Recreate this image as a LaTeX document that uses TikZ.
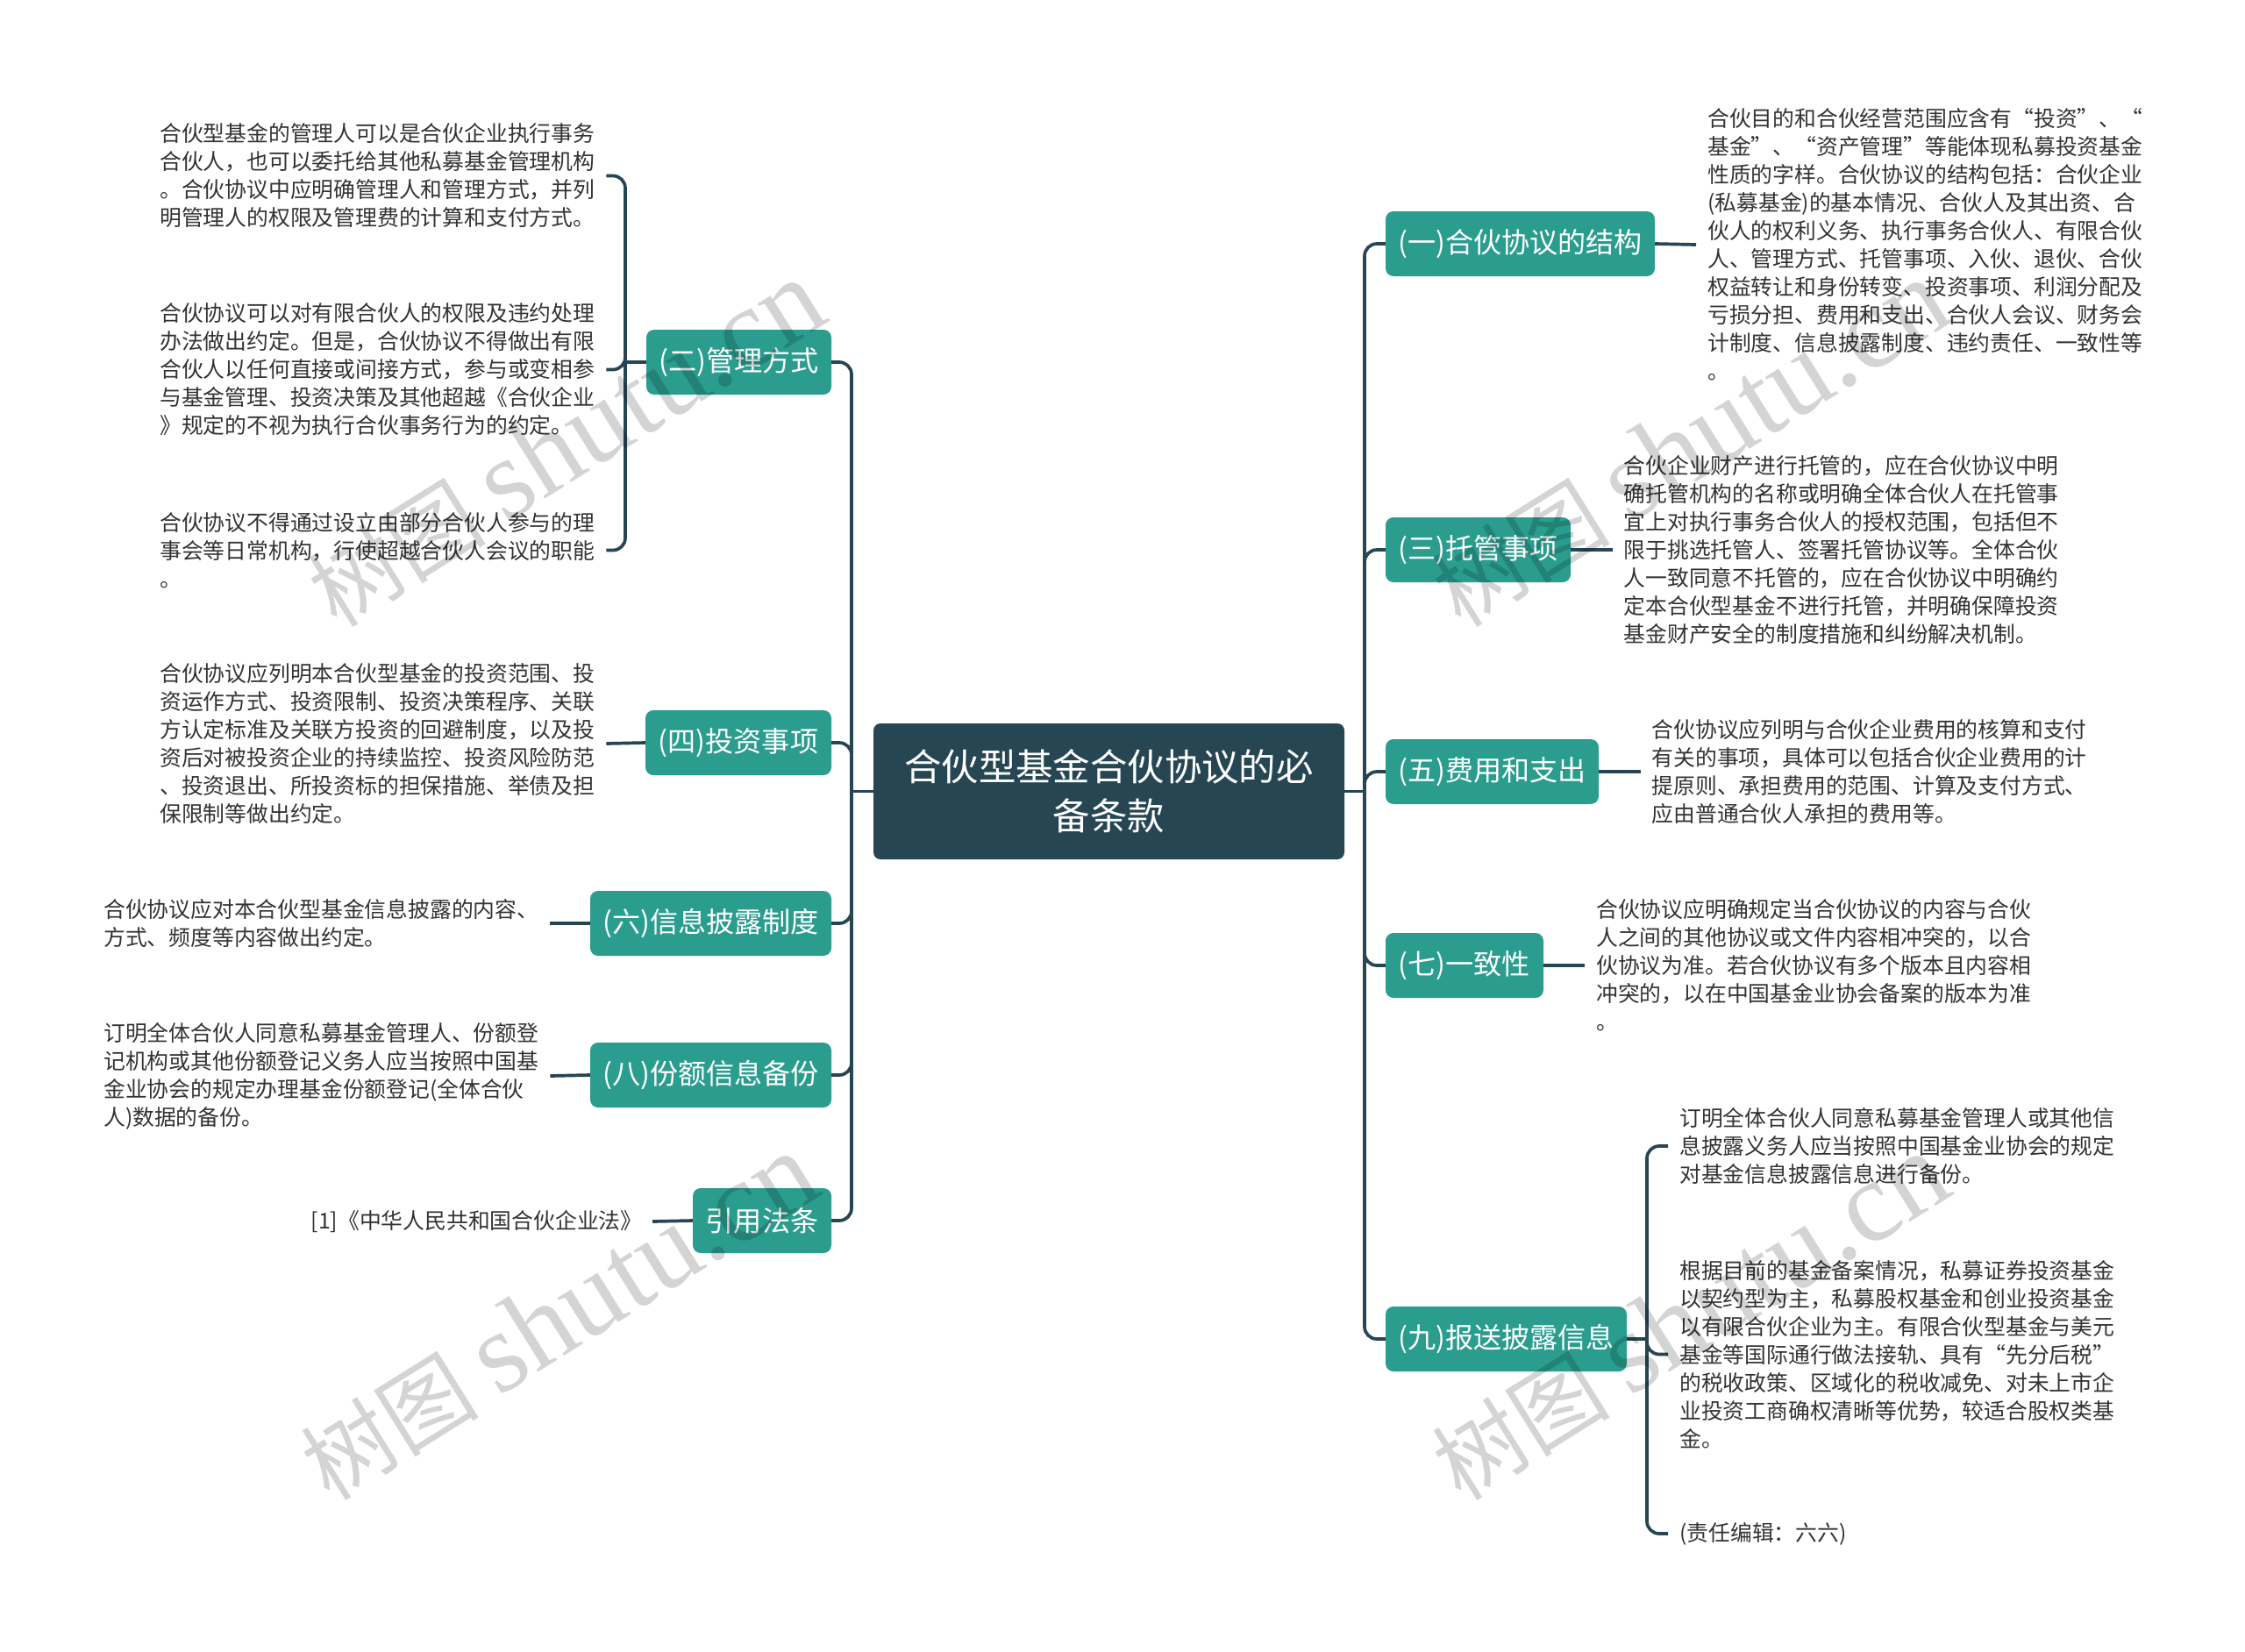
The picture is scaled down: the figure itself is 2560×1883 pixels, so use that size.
\documentclass[tikz,border=0pt]{standalone}
\usepackage{fontspec}
\setmainfont{Noto Sans CJK SC}
\newfontfamily\wmlatin{Liberation Serif}
\definecolor{rootc}{HTML}{264653}
\definecolor{teal}{HTML}{2A9D8F}
\definecolor{txt}{HTML}{333333}
\newcommand{\wmtext}{{\fontsize{102}{102}\selectfont 树图}\hspace{22pt}{\wmlatin\fontsize{131}{131}\selectfont shutu.cn}}
\tikzset{
  x=1pt,y=-1pt,
  rootbox/.style={fill=rootc,rounded corners=8pt,inner sep=0pt,text=white,align=center,font=\fontsize{42.4}{56}\selectfont},
  topic/.style={fill=teal,rounded corners=9pt,inner sep=0pt,text=white,minimum height=74pt,font=\fontsize{32.1}{40}\selectfont},
  leaf/.style={inner xsep=13pt,inner ysep=0pt,align=left,text=txt,text width=496pt,font=\fontsize{24.8}{32}\selectfont},
  link/.style={draw=rootc,line width=3.7pt,rounded corners=14pt},
  wm/.style={text=black,opacity=0.17,rotate=32,inner sep=0pt},
}
\begin{document}
\begin{tikzpicture}
\useasboundingbox[fill=white] (0,0) rectangle (2560,1883);
% root
\node[rootbox,minimum width=537pt,minimum height=155pt] (root) at (1264.5,902.5) {合伙型基金合伙协议的必\\备条款};
\coordinate (tl) at (971,902.5);
\coordinate (tr) at (1556,902.5);
% left topics
\node[topic,minimum width=211pt] (b2) at (842.5,413) {\raisebox{-1.5pt}{(二)管理方式}};
\node[topic,minimum width=212pt] (b4) at (842,847) {\raisebox{-1.5pt}{(四)投资事项}};
\node[topic,minimum width=275pt] (b6) at (810.5,1053) {\raisebox{-1.5pt}{(六)信息披露制度}};
\node[topic,minimum width=275pt] (b8) at (810.5,1226) {\raisebox{-1.5pt}{(八)份额信息备份}};
\node[topic,minimum width=158pt] (bref) at (869,1392) {\raisebox{-1.5pt}{引用法条}};
% right topics
\node[topic,minimum width=307pt] (b1) at (1733.5,278) {\raisebox{-1.5pt}{(一)合伙协议的结构}};
\node[topic,minimum width=211pt] (b3) at (1685.5,627) {\raisebox{-1.5pt}{(三)托管事项}};
\node[topic,minimum width=243pt] (b5) at (1701.5,880) {\raisebox{-1.5pt}{(五)费用和支出}};
\node[topic,minimum width=180pt] (b7) at (1670,1101) {\raisebox{-1.5pt}{(七)一致性}};
\node[topic,minimum width=275pt] (b9) at (1717.5,1527) {\raisebox{-1.5pt}{(九)报送披露信息}};
% left leaves
\node[leaf,anchor=west] (l2a) at (169,200.5) {合伙型基金的管理人可以是合伙企业执行事务\\合伙人，也可以委托给其他私募基金管理机构\\。合伙协议中应明确管理人和管理方式，并列\\明管理人的权限及管理费的计算和支付方式。};
\node[leaf,anchor=west] (l2b) at (169,421.5) {合伙协议可以对有限合伙人的权限及违约处理\\办法做出约定。但是，合伙协议不得做出有限\\合伙人以任何直接或间接方式，参与或变相参\\与基金管理、投资决策及其他超越《合伙企业\\》规定的不视为执行合伙事务行为的约定。};
\node[leaf,anchor=west] (l2c) at (169,627.5) {合伙协议不得通过设立由部分合伙人参与的理\\事会等日常机构，行使超越合伙人会议的职能\\。};
\node[leaf,anchor=west] (l4) at (169,848) {合伙协议应列明本合伙型基金的投资范围、投\\资运作方式、投资限制、投资决策程序、关联\\方认定标准及关联方投资的回避制度，以及投\\资后对被投资企业的持续监控、投资风险防范\\、投资退出、所投资标的担保措施、举债及担\\保限制等做出约定。};
\node[leaf,anchor=west] (l6) at (105,1053) {合伙协议应对本合伙型基金信息披露的内容、\\方式、频度等内容做出约定。};
\node[leaf,anchor=west] (l8) at (105,1227) {订明全体合伙人同意私募基金管理人、份额登\\记机构或其他份额登记义务人应当按照中国基\\金业协会的规定办理基金份额登记(全体合伙\\人)数据的备份。};
\node[leaf,anchor=east,text width=376pt] (lref) at (744,1393) {[1]《中华人民共和国合伙企业法》};
% right leaves
\node[leaf,anchor=west] (r1) at (1934,279) {合伙目的和合伙经营范围应含有“投资”、“\\基金”、“资产管理”等能体现私募投资基金\\性质的字样。合伙协议的结构包括：合伙企业\\(私募基金)的基本情况、合伙人及其出资、合\\伙人的权利义务、执行事务合伙人、有限合伙\\人、管理方式、托管事项、入伙、退伙、合伙\\权益转让和身份转变、投资事项、利润分配及\\亏损分担、费用和支出、合伙人会议、财务会\\计制度、信息披露制度、违约责任、一致性等\\。};
\node[leaf,anchor=west] (r3) at (1838.5,627) {合伙企业财产进行托管的，应在合伙协议中明\\确托管机构的名称或明确全体合伙人在托管事\\宜上对执行事务合伙人的授权范围，包括但不\\限于挑选托管人、签署托管协议等。全体合伙\\人一致同意不托管的，应在合伙协议中明确约\\定本合伙型基金不进行托管，并明确保障投资\\基金财产安全的制度措施和纠纷解决机制。};
\node[leaf,anchor=west] (r5) at (1870.5,880) {合伙协议应列明与合伙企业费用的核算和支付\\有关的事项，具体可以包括合伙企业费用的计\\提原则、承担费用的范围、计算及支付方式、\\应由普通合伙人承担的费用等。};
\node[leaf,anchor=west] (r7) at (1807,1101) {合伙协议应明确规定当合伙协议的内容与合伙\\人之间的其他协议或文件内容相冲突的，以合\\伙协议为准。若合伙协议有多个版本且内容相\\冲突的，以在中国基金业协会备案的版本为准\\。};
\node[leaf,anchor=west] (r9a) at (1902,1307) {订明全体合伙人同意私募基金管理人或其他信\\息披露义务人应当按照中国基金业协会的规定\\对基金信息披露信息进行备份。};
\node[leaf,anchor=west] (r9b) at (1902,1544.5) {根据目前的基金备案情况，私募证券投资基金\\以契约型为主，私募股权基金和创业投资基金\\以有限合伙企业为主。有限合伙型基金与美元\\基金等国际通行做法接轨、具有“先分后税”\\的税收政策、区域化的税收减免、对未上市企\\业投资工商确权清晰等优势，较适合股权类基\\金。};
\node[leaf,anchor=west] (r9c) at (1902,1749) {(责任编辑：六六)};
% bracket hubs
\coordinate (h2) at (713,413);
\coordinate (h9) at (1878,1527);
% connectors
\draw[link] (root.west) -- (tl);
\draw[link] (root.east) -- (tr);
\foreach \n in {b2,b4,b6,b8,bref} \draw[link] (tl) |- (\n.east);
\foreach \n in {b1,b3,b5,b7,b9} \draw[link] (tr) |- (\n.west);
\draw[link] (b2.west) -- (h2);
\foreach \n in {l2a,l2b,l2c} \draw[link] (h2) |- (\n.east);
\draw[link] (b4.west) -- (l4.east);
\draw[link] (b6.west) -- (l6.east);
\draw[link] (b8.west) -- (l8.east);
\draw[link] (bref.west) -- (lref.east);
\draw[link] (b1.east) -- (r1.west);
\draw[link] (b3.east) -- (r3.west);
\draw[link] (b5.east) -- (r5.west);
\draw[link] (b7.east) -- (r7.west);
\draw[link] (b9.east) -- (h9);
\foreach \n in {r9a,r9b,r9c} \draw[link] (h9) |- (\n.west);
% watermarks
\node[wm] (w1) at (645,506) {\wmtext};
\node[wm] (w2) at (1927,506) {\wmtext};
\node[wm] (w3) at (637,1502) {\wmtext};
\node[wm] (w4) at (1927,1502) {\wmtext};
\end{tikzpicture}
\end{document}
